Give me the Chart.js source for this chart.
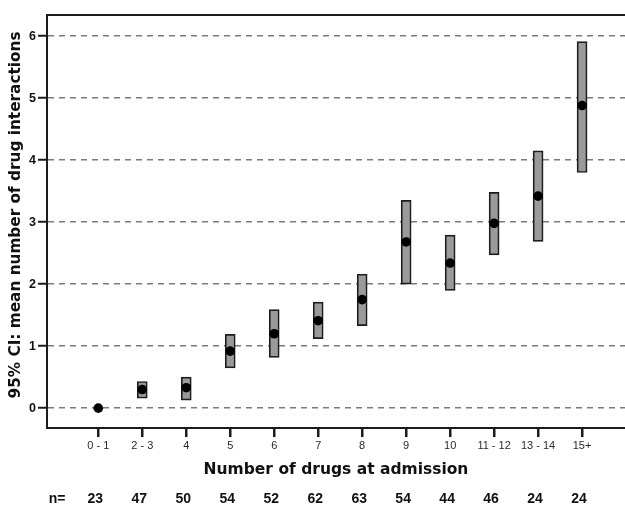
<!DOCTYPE html>
<html>
<head>
<meta charset="utf-8">
<script src="https://cdn.jsdelivr.net/npm/chart.js@4/dist/chart.umd.min.js"></script>
<style>
  html, body { margin: 0; padding: 0; background: #fff; overflow: hidden; }
  #wrap { position: relative; width: 625px; height: 506px; }
  canvas { display: block; }
</style>
</head>
<body>
<div id="wrap"><canvas id="c"></canvas></div>
<script>
// Drug-count groups at admission
const categories = ['0 - 1', '2 - 3', '4', '5', '6', '7', '8', '9', '10', '11 - 12', '13 - 14', '15+'];
// Patients per group
const nCounts = [23, 47, 50, 54, 52, 62, 63, 54, 44, 46, 24, 24];
// Mean number of drug interactions
const means = [0, 0.30, 0.33, 0.92, 1.20, 1.41, 1.75, 2.68, 2.34, 2.98, 3.42, 4.88];
// 95% confidence interval bounds (null where the interval collapses to the mean)
const ciLower = [null, 0.16, 0.13, 0.65, 0.82, 1.12, 1.33, 2.00, 1.90, 2.47, 2.69, 3.80];
const ciUpper = [null, 0.43, 0.50, 1.19, 1.59, 1.71, 2.16, 3.35, 2.79, 3.48, 4.15, 5.91];
// Y axis tick values
const yTicks = [0, 1, 2, 3, 4, 5, 6];

const ink = '#1c1c1c';
const titleFont = '"DejaVu Sans", Verdana, sans-serif';
const bodyFont = '"Liberation Sans", Arial, sans-serif';

// Frame line along the top, category tick marks, the y title and the "n=" row
const extras = {
  id: 'extras',
  afterDraw(chart) {
    const { ctx, chartArea, scales } = chart;
    ctx.save();
    ctx.setLineDash([]);
    ctx.strokeStyle = ink;
    ctx.lineWidth = 2;
    ctx.beginPath();
    ctx.moveTo(chartArea.left - 1, chartArea.top);
    ctx.lineTo(chartArea.right, chartArea.top);
    ctx.stroke();

    const axisY = scales.x.top;
    categories.forEach((c, i) => {
      const px = Math.round(scales.x.getPixelForValue(i));
      ctx.beginPath();
      ctx.moveTo(px, axisY);
      ctx.lineTo(px, axisY + 9);
      ctx.stroke();
    });

    ctx.fillStyle = '#111';
    ctx.textBaseline = 'middle';
    ctx.textAlign = 'center';

    ctx.save();
    ctx.translate(16, 215);
    ctx.rotate(-Math.PI / 2);
    ctx.font = 'bold 15.3px ' + titleFont;
    ctx.fillText('95% CI: mean number of drug interactions', 0, 0);
    ctx.restore();

    ctx.font = 'bold 14px ' + bodyFont;
    const y = 499;
    ctx.fillText('n=', 57, y);
    nCounts.forEach((n, i) => {
      ctx.fillText(String(n), scales.x.getPixelForValue(i) - 3, y);
    });
    ctx.restore();
  }
};

const boxData = [];
categories.forEach((c, i) => {
  if (ciLower[i] !== null) boxData.push({ x: i, y: [ciLower[i], ciUpper[i]] });
});
const meanData = categories.map((c, i) => ({ x: i, y: means[i] }));

new Chart(document.getElementById('c'), {
  type: 'bar',
  data: {
    datasets: [
      {
        type: 'line',
        label: 'Mean',
        data: meanData,
        showLine: false,
        pointRadius: 4.8,
        pointHoverRadius: 4.8,
        pointBackgroundColor: '#000',
        pointBorderWidth: 0,
        order: 0
      },
      {
        type: 'bar',
        label: '95% CI',
        data: boxData,
        backgroundColor: '#9a9a9a',
        borderColor: ink,
        borderWidth: 1.7,
        borderSkipped: false,
        barThickness: 10,
        order: 1
      }
    ]
  },
  options: {
    responsive: true,
    maintainAspectRatio: false,
    animation: false,
    layout: { autoPadding: false, padding: { top: 15, left: 0, right: 0, bottom: 0 } },
    plugins: {
      legend: { display: false },
      tooltip: { enabled: false }
    },
    scales: {
      x: {
        type: 'linear',
        min: -1.166,
        max: 11.976,
        offset: false,
        afterBuildTicks(scale) {
          scale.ticks = categories.map((c, i) => ({ value: i }));
        },
        afterFit(scale) {
          scale.height = 78;
          scale.paddingLeft = 0;
          scale.paddingRight = 0;
        },
        grid: {
          offset: false,
          drawOnChartArea: false,
          drawTicks: true,
          tickLength: 9,
          tickColor: ink,
          tickWidth: 2
        },
        border: { display: true, color: ink, width: 2 },
        ticks: {
          autoSkip: false,
          maxRotation: 0,
          padding: 2,
          color: '#2a2a2a',
          font: { family: bodyFont, size: 11 },
          callback: (v) => categories[v] ?? ''
        },
        title: {
          display: true,
          text: 'Number of drugs at admission',
          color: '#111',
          font: { family: titleFont, size: 15.5, weight: 'bold' },
          padding: { top: 0, bottom: 27 }
        }
      },
      y: {
        type: 'linear',
        min: -0.32,
        max: 6.34,
        afterBuildTicks(scale) {
          scale.ticks = yTicks.map(v => ({ value: v }));
        },
        afterFit(scale) {
          scale.width = 47;
          scale.paddingTop = 0;
          scale.paddingBottom = 0;
        },
        grid: {
          color: '#7a7a7a',
          lineWidth: 1.5,
          drawTicks: true,
          tickLength: 9,
          tickColor: ink,
          tickWidth: 2,
          tickBorderDash: []
        },
        border: { display: true, color: ink, width: 2, dash: [6, 5] },
        ticks: {
          padding: 2,
          color: '#111',
          font: { family: bodyFont, size: 12.5, weight: 'bold' }
        },
        title: { display: false }
      }
    }
  },
  plugins: [extras]
});
</script>
</body>
</html>
